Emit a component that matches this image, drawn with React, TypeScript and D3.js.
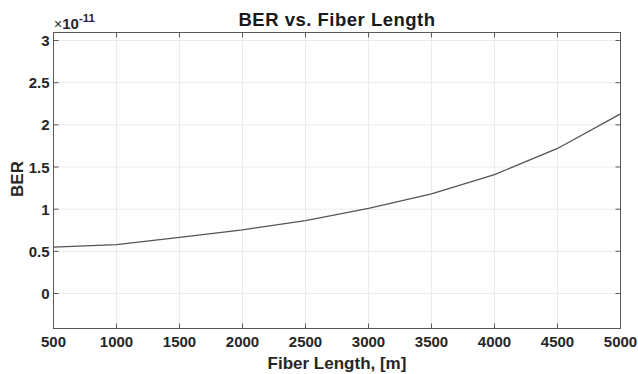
import React, { useRef, useEffect } from "react";
import * as d3 from "d3";

const fontFamily = "'Liberation Sans', Arial, Helvetica, sans-serif";

// fiber length [m] and BER (x 1e-11)
const lengths = [500, 1000, 1500, 2000, 2500, 3000, 3500, 4000, 4500, 5000];
const berValues = [0.55, 0.58, 0.665, 0.755, 0.865, 1.01, 1.18, 1.41, 1.72, 2.13];
const xTicks = [500, 1000, 1500, 2000, 2500, 3000, 3500, 4000, 4500, 5000];
const yTicks = [0, 0.5, 1, 1.5, 2, 2.5, 3];

export default function App() {
  const ref = useRef<SVGSVGElement>(null);

  useEffect(() => {
    const width = 638;
    const height = 374;
    const margin = { top: 32.5, right: 17.5, bottom: 45.5, left: 53.5 };
    const innerW = width - margin.left - margin.right;
    const innerH = height - margin.top - margin.bottom;

    const svg = d3.select(ref.current);
    svg.selectAll("*").remove();
    svg.style("background", "#fff").style("font-family", fontFamily);

    const x = d3.scaleLinear().domain([500, 5000]).range([0, innerW]);
    const y = d3.scaleLinear().domain([-0.415, 3.095]).range([innerH, 0]);

    const g = svg.append("g").attr("transform", `translate(${margin.left},${margin.top})`);

    // grid
    g.selectAll("line.vgrid")
      .data(xTicks)
      .join("line")
      .attr("class", "vgrid")
      .attr("x1", d => x(d))
      .attr("x2", d => x(d))
      .attr("y1", 0)
      .attr("y2", innerH)
      .attr("stroke", "#ebebeb")
      .attr("stroke-width", 1);
    g.selectAll("line.hgrid")
      .data(yTicks)
      .join("line")
      .attr("class", "hgrid")
      .attr("x1", 0)
      .attr("x2", innerW)
      .attr("y1", d => y(d))
      .attr("y2", d => y(d))
      .attr("stroke", "#ebebeb")
      .attr("stroke-width", 1);

    // curve
    const line = d3
      .line<number>()
      .x((d, i) => x(lengths[i]))
      .y(d => y(d));
    g.append("path")
      .datum(berValues)
      .attr("d", line)
      .attr("fill", "none")
      .attr("stroke", "#555")
      .attr("stroke-width", 1.3);

    // box axes with inward ticks
    const axisColor = "#5a5a5a";
    const tickLen = 5;
    g.append("rect")
      .attr("x", 0)
      .attr("y", 0)
      .attr("width", innerW)
      .attr("height", innerH)
      .attr("fill", "none")
      .attr("stroke", axisColor)
      .attr("stroke-width", 1);

    xTicks.forEach(t => {
      g.append("line").attr("x1", x(t)).attr("x2", x(t)).attr("y1", innerH).attr("y2", innerH - tickLen).attr("stroke", axisColor);
      g.append("line").attr("x1", x(t)).attr("x2", x(t)).attr("y1", 0).attr("y2", tickLen).attr("stroke", axisColor);
    });
    yTicks.forEach(t => {
      g.append("line").attr("x1", 0).attr("x2", tickLen).attr("y1", y(t)).attr("y2", y(t)).attr("stroke", axisColor);
      g.append("line").attr("x1", innerW).attr("x2", innerW - tickLen).attr("y1", y(t)).attr("y2", y(t)).attr("stroke", axisColor);
    });

    // tick labels
    g.selectAll("text.xtick")
      .data(xTicks)
      .join("text")
      .attr("class", "xtick")
      .attr("x", d => x(d))
      .attr("y", innerH + 18.5)
      .attr("text-anchor", "middle")
      .attr("font-size", 15)
      .attr("font-weight", "bold")
      .attr("fill", "#262626")
      .text(d => d);
    g.selectAll("text.ytick")
      .data(yTicks)
      .join("text")
      .attr("class", "ytick")
      .attr("x", -4)
      .attr("y", d => y(d) + 5.5)
      .attr("text-anchor", "end")
      .attr("font-size", 15)
      .attr("font-weight", "bold")
      .attr("fill", "#262626")
      .text(d => d);

    // exponent
    const expo = svg.append("text")
      .attr("x", 54)
      .attr("y", 29)
      .attr("font-size", 15)
      .attr("fill", "#262626");
    expo.append("tspan").attr("font-weight", "normal").attr("font-size", 14).text("×");
    expo.append("tspan").attr("font-weight", "bold").text("10");
    expo.append("tspan").attr("font-weight", "bold").attr("font-size", 11.5).attr("dy", -7).text("-11");

    // title
    svg.append("text")
      .attr("x", margin.left + innerW / 2)
      .attr("y", 26)
      .attr("text-anchor", "middle")
      .attr("font-size", 18.5)
      .attr("font-weight", "bold")
      .attr("letter-spacing", 0.5)
      .attr("fill", "#1a1a1a")
      .text("BER vs. Fiber Length");

    // axis labels
    svg.append("text")
      .attr("x", margin.left + innerW / 2)
      .attr("y", 369)
      .attr("text-anchor", "middle")
      .attr("font-size", 17)
      .attr("font-weight", "bold")
      .attr("fill", "#262626")
      .text("Fiber Length, [m]");
    svg.append("text")
      .attr("transform", `translate(23,${margin.top + innerH / 2 - 1.5}) rotate(-90)`)
      .attr("text-anchor", "middle")
      .attr("font-size", 17)
      .attr("font-weight", "bold")
      .attr("fill", "#262626")
      .text("BER");
  }, []);

  return (
    <svg
      ref={ref}
      width={638}
      height={374}
      style={{ position: "absolute", left: 0, top: 0 }}
    ></svg>
  );
}
